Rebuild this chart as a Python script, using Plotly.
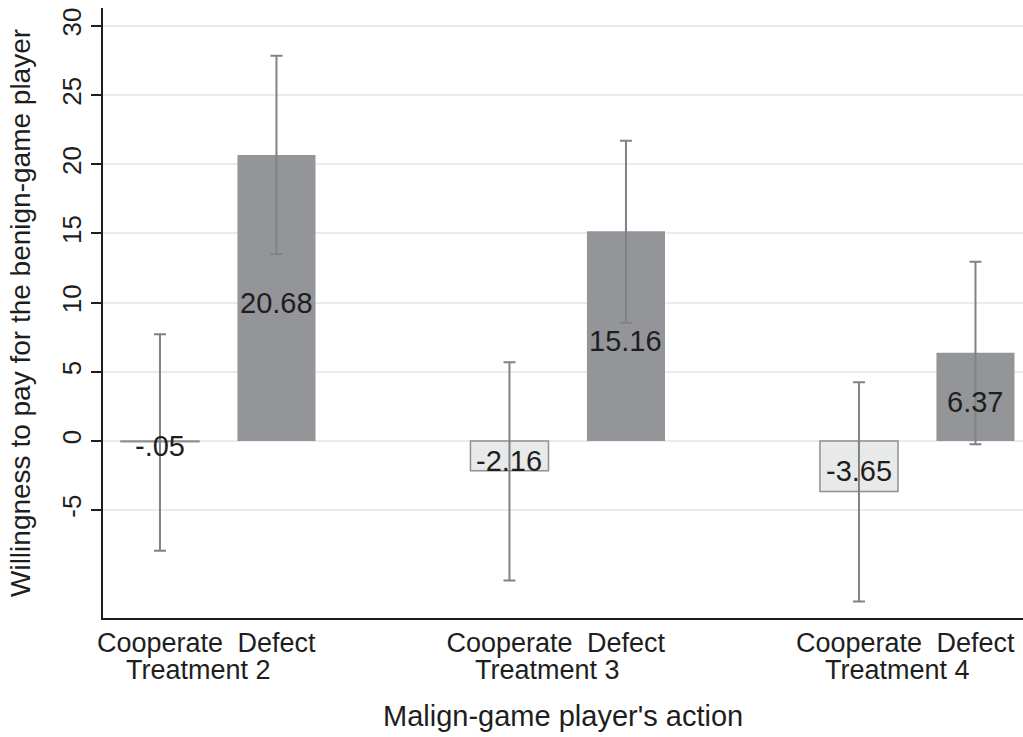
import plotly.graph_objects as go

treatments = ["Treatment 2", "Treatment 3", "Treatment 4"]
actions = ["Cooperate", "Defect"]
coop_mean = [-0.05, -2.16, -3.65]
defect_mean = [20.68, 15.16, 6.37]
coop_upper = [7.71, 5.69, 4.24]
coop_lower = [-7.93, -10.09, -11.6]
defect_upper = [27.84, 21.70, 12.96]
defect_lower = [13.51, 8.55, -0.24]
y_ticks = [-5, 0, 5, 10, 15, 20, 25, 30]


def fmt(v):
    s = f"{v:.2f}"
    if s.startswith("0."):
        s = s[1:]
    elif s.startswith("-0."):
        s = "-" + s[2:]
    return s


FONT = "Liberation Sans, Arial, Helvetica, sans-serif"
x_coop = [g * 3 for g in range(len(treatments))]
x_def = [g * 3 + 1 for g in range(len(treatments))]

fig = go.Figure()

fig.add_trace(go.Bar(
    x=x_coop, y=coop_mean, width=0.67,
    marker=dict(color="#e8e9e9", line=dict(color="#8f9092", width=1.5)),
    showlegend=False, hoverinfo="skip"))
fig.add_trace(go.Bar(
    x=x_def, y=defect_mean, width=0.67,
    marker=dict(color="#939598", line=dict(width=0)),
    showlegend=False, hoverinfo="skip"))

xs = x_coop + x_def
vals = coop_mean + defect_mean

# value labels centred in bars
for x, v in zip(xs, vals):
    fig.add_annotation(
        x=x, y=v / 2, xref="x", yref="y", yshift=-5,
        text=fmt(v), showarrow=False,
        font=dict(family=FONT, size=29, color="#1e1e1e"))

# confidence intervals
uppers = coop_upper + defect_upper
lowers = coop_lower + defect_lower
fig.add_trace(go.Scatter(
    x=xs, y=vals, mode="markers",
    marker=dict(size=1, color="rgba(0,0,0,0)"),
    error_y=dict(type="data", symmetric=False,
                 array=[u - v for u, v in zip(uppers, vals)],
                 arrayminus=[v - l for l, v in zip(lowers, vals)],
                 color="#808285", thickness=2, width=6),
    showlegend=False, hoverinfo="skip"))

for g, t in enumerate(treatments):
    fig.add_annotation(
        x=g * 3 + 0.5, y=0, xref="x", yref="paper", yanchor="top",
        yshift=-35, xshift=-20, text=t, showarrow=False,
        font=dict(family=FONT, size=27, color="#1e1e1e"))

fig.add_annotation(
    x=0.5, y=0, xref="paper", yref="paper", yanchor="top", yshift=-80,
    text="Malign-game player's action", showarrow=False,
    font=dict(family=FONT, size=29, color="#1e1e1e"))

fig.add_annotation(
    x=0, y=0.5, xref="paper", yref="paper", xanchor="center",
    xshift=-83, textangle=-90,
    text="Willingness to pay for the benign-game player", showarrow=False,
    font=dict(family=FONT, size=28, color="#1e1e1e"))

fig.update_layout(
    width=1023, height=737,
    margin=dict(l=103, r=0, t=8, b=119),
    plot_bgcolor="white", paper_bgcolor="white",
    barmode="overlay",
    xaxis=dict(
        range=[-0.489, 7.408],
        tickvals=x_coop + x_def,
        ticktext=[actions[0]] * 3 + [actions[1]] * 3,
        tickfont=dict(family=FONT, size=27, color="#1e1e1e"),
        showgrid=False, zeroline=False, ticks="",
        showline=True, linecolor="#1e1e1e", linewidth=1.5,
        automargin=False,
    ),
    yaxis=dict(
        range=[-12.8, 31.3],
        tickvals=y_ticks,
        ticktext=[str(v) for v in y_ticks],
        tickangle=-90,
        tickfont=dict(family=FONT, size=26, color="#1e1e1e"),
        ticks="outside", ticklen=10, tickwidth=1.5, tickcolor="#1e1e1e",
        showgrid=True, gridcolor="#ebebeb", gridwidth=2,
        zeroline=False,
        showline=True, linecolor="#1e1e1e", linewidth=1.5,
        automargin=False,
    ),
)

fig.write_html(
    "out.html",
    config={"displayModeBar": False},
    post_script="document.body.style.margin='0';"
                "document.body.style.overflow='hidden';",
)
